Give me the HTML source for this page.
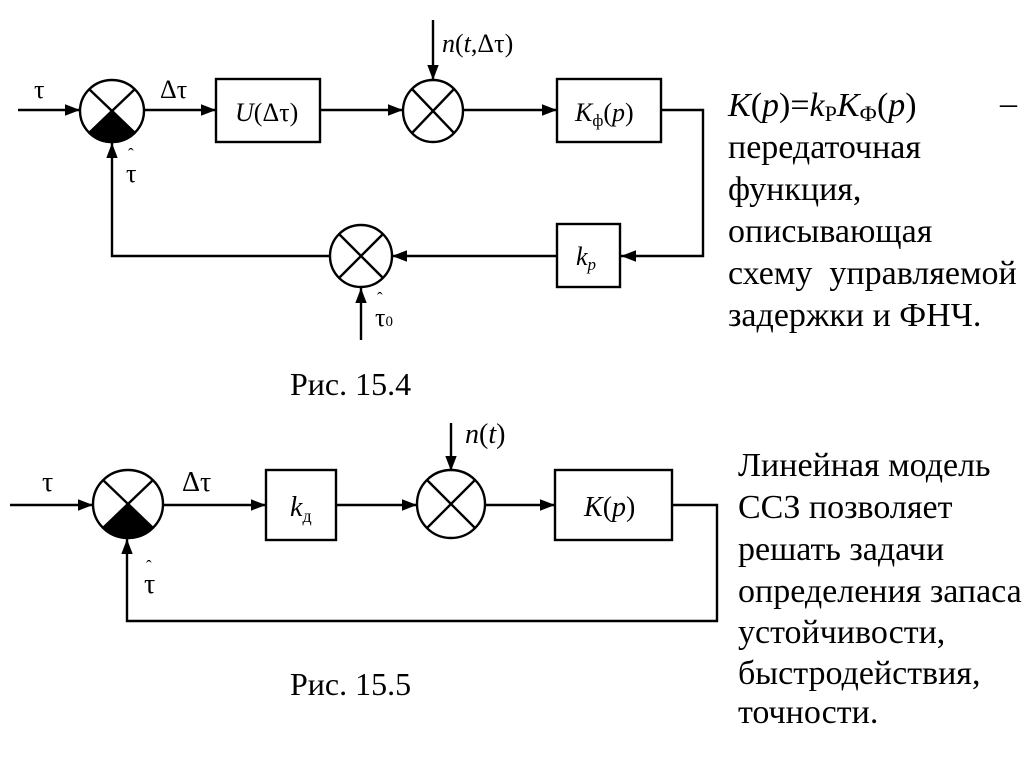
<!DOCTYPE html>
<html><head><meta charset="utf-8"><style>
html,body{margin:0;padding:0;background:#fff;}
svg{display:block;}
text{font-family:"Liberation Serif",serif;fill:#000;}
.it{font-style:italic;}
</style></head><body>
<svg width="1024" height="767" viewBox="0 0 1024 767" xmlns="http://www.w3.org/2000/svg">
<defs>
<marker id="b" viewBox="0 0 10 10" refX="10" refY="5" markerWidth="15" markerHeight="15" markerUnits="userSpaceOnUse" orient="auto"><path d="M0,1.2 L10,5 L0,8.8 z" fill="#000"/></marker>
</defs>
<g stroke="#000" stroke-width="2.4" fill="none">
<!-- Top diagram -->
<line x1="18" y1="110" x2="80" y2="110" marker-end="url(#b)"/>
<ellipse cx="112" cy="111" rx="32" ry="31" fill="#fff"/>
<line x1="89" y1="89" x2="135" y2="133"/><line x1="135" y1="89" x2="89" y2="133"/>
<path d="M112,111 L134.6,133 A32,31 0 0 1 89.4,133 Z" fill="#000"/>
<line x1="144" y1="110" x2="216" y2="110" marker-end="url(#b)"/>
<rect x="216" y="79" width="104" height="63"/>
<line x1="320" y1="110" x2="403" y2="110" marker-end="url(#b)"/>
<ellipse cx="433" cy="111" rx="30" ry="31"/>
<line x1="412" y1="89" x2="454" y2="133"/><line x1="454" y1="89" x2="412" y2="133"/>
<line x1="433" y1="20" x2="433" y2="80" marker-end="url(#b)"/>
<line x1="464" y1="110" x2="557" y2="110" marker-end="url(#b)"/>
<rect x="557" y="79" width="104" height="63"/>
<polyline points="661,110 703,110 703,256 621,256" marker-end="url(#b)"/>
<rect x="557" y="224" width="63" height="63"/>
<line x1="557" y1="256" x2="392" y2="256" marker-end="url(#b)"/>
<ellipse cx="361" cy="256" rx="31" ry="31"/>
<line x1="339" y1="234" x2="383" y2="278"/><line x1="383" y1="234" x2="339" y2="278"/>
<polyline points="330,256 112,256 112,143" marker-end="url(#b)"/>
<line x1="361" y1="340" x2="361" y2="288" marker-end="url(#b)"/>
<!-- Bottom diagram -->
<line x1="10" y1="505" x2="93" y2="505" marker-end="url(#b)"/>
<ellipse cx="128" cy="504" rx="35" ry="34" fill="#fff"/>
<line x1="103" y1="480" x2="153" y2="528"/><line x1="153" y1="480" x2="103" y2="528"/>
<path d="M128,504 L152.7,528 A35,34 0 0 1 103.3,528 Z" fill="#000"/>
<line x1="163" y1="505" x2="266" y2="505" marker-end="url(#b)"/>
<rect x="266" y="470" width="70" height="70"/>
<line x1="336" y1="505" x2="417" y2="505" marker-end="url(#b)"/>
<ellipse cx="451" cy="504" rx="34" ry="34"/>
<line x1="427" y1="480" x2="475" y2="528"/><line x1="475" y1="480" x2="427" y2="528"/>
<line x1="451" y1="423" x2="451" y2="471" marker-end="url(#b)"/>
<line x1="486" y1="505" x2="555" y2="505" marker-end="url(#b)"/>
<rect x="555" y="470" width="117" height="70"/>
<polyline points="672,505 717,505 717,621 127,621 127,539" marker-end="url(#b)"/>
</g>
<!-- Top labels -->
<text x="34" y="98" font-size="26">τ</text>
<text x="160" y="98" font-size="26">Δτ</text>
<text x="235" y="121" font-size="26"><tspan class="it">U</tspan>(Δτ)</text>
<text x="442" y="52" font-size="26"><tspan class="it">n</tspan>(<tspan class="it">t</tspan>,Δτ)</text>
<text x="575" y="121" font-size="26"><tspan class="it">K</tspan><tspan font-size="17" dy="5">ф</tspan><tspan dy="-5">(</tspan><tspan class="it">p</tspan>)</text>
<text x="576" y="265" font-size="26" class="it">k<tspan font-size="17" dy="5">p</tspan></text>
<text x="128" y="160" font-size="17">ˆ</text>
<text x="126" y="182" font-size="26">τ</text>
<text x="377" y="304" font-size="17">ˆ</text>
<text x="375" y="326" font-size="26">τ<tspan font-size="15">0</tspan></text>
<text x="290" y="395" font-size="32">Рис. 15.4</text>
<!-- Bottom labels -->
<text x="42" y="491" font-size="28">τ</text>
<text x="182" y="491" font-size="28">Δτ</text>
<text x="290" y="516" font-size="28" class="it">k<tspan font-size="18" dy="6" font-style="normal">д</tspan></text>
<text x="465" y="443" font-size="28"><tspan class="it">n</tspan>(<tspan class="it">t</tspan>)</text>
<text x="584" y="516" font-size="28"><tspan class="it">K</tspan>(<tspan class="it">p</tspan>)</text>
<text x="146" y="572" font-size="17">ˆ</text>
<text x="144" y="593" font-size="28">τ</text>
<text x="290" y="695" font-size="32">Рис. 15.5</text>
<!-- Right text -->
<g font-size="34">
<text x="728" y="116"><tspan class="it">K</tspan>(<tspan class="it">p</tspan>)=<tspan class="it">k</tspan><tspan font-size="22" dy="5">Р</tspan><tspan class="it" dy="-5">K</tspan><tspan font-size="22" dy="5">Ф</tspan><tspan dy="-5">(</tspan><tspan class="it">p</tspan>)</text>
<text x="1000" y="114">–</text>
<text x="728" y="158">передаточная</text>
<text x="728" y="200">функция,</text>
<text x="728" y="242">описывающая</text>
<text x="728" y="284" xml:space="preserve">схему  управляемой</text>
<text x="728" y="326">задержки и ФНЧ.</text>
<text x="738" y="476">Линейная модель</text>
<text x="738" y="518">ССЗ позволяет</text>
<text x="738" y="560">решать задачи</text>
<text x="738" y="602">определения запаса</text>
<text x="738" y="643">устойчивости,</text>
<text x="738" y="684">быстродействия,</text>
<text x="738" y="723">точности.</text>
</g>
</svg>
</body></html>
